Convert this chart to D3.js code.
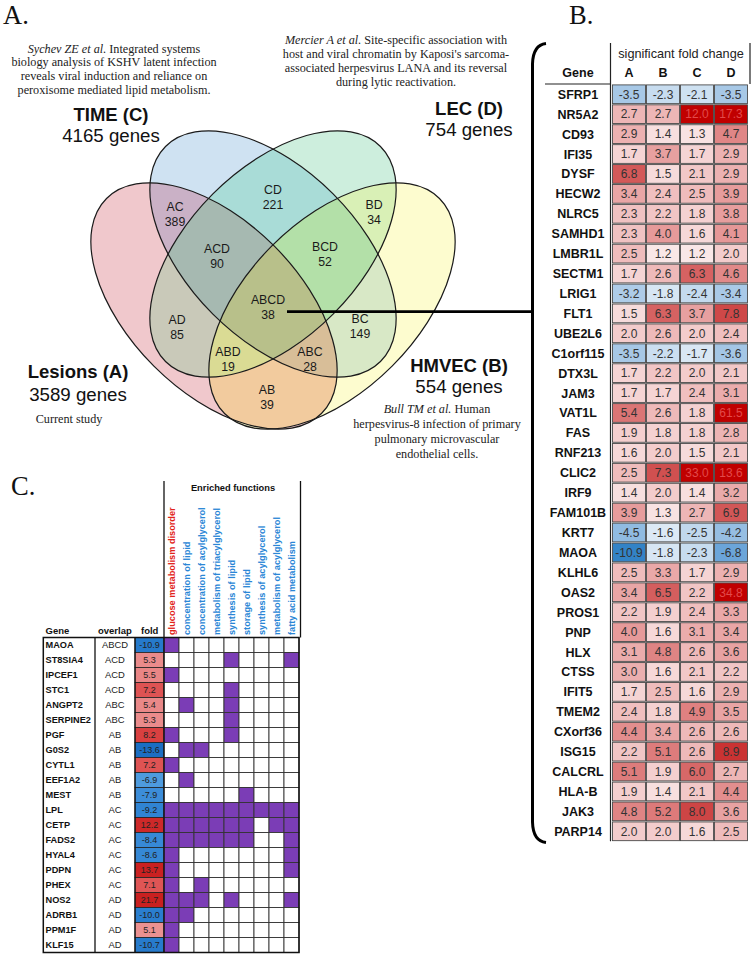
<!DOCTYPE html>
<html><head><meta charset="utf-8">
<script src="https://cdn.jsdelivr.net/npm/d3@7"></script>
<style>body{margin:0;background:#fff}svg{display:block}</style>
</head><body>
<svg id="fig" width="753" height="959"></svg>
<script>
// ---------------- DATA ----------------
const vennSetKeys   = ["A", "B", "C", "D"];
const vennSetTitles = ["Lesions (A)", "HMVEC (B)", "TIME (C)", "LEC (D)"];
const vennSetGenes  = [3589, 554, 4165, 754];
const vennRegionKeys   = ["AC", "CD", "BD", "ACD", "BCD", "AD", "ABCD", "BC", "ABD", "ABC", "AB"];
const vennRegionCounts = [389, 221, 34, 90, 52, 85, 38, 149, 19, 28, 39];

const geneB = ["SFRP1","NR5A2","CD93","IFI35","DYSF","HECW2","NLRC5","SAMHD1","LMBR1L","SECTM1",
  "LRIG1","FLT1","UBE2L6","C1orf115","DTX3L","JAM3","VAT1L","FAS","RNF213","CLIC2","IRF9","FAM101B",
  "KRT7","MAOA","KLHL6","OAS2","PROS1","PNP","HLX","CTSS","IFIT5","TMEM2","CXorf36","ISG15","CALCRL",
  "HLA-B","JAK3","PARP14"];
const foldA = [-3.5,2.7,2.9,1.7,6.8,3.4,2.3,2.3,2.5,1.7,-3.2,1.5,2.0,-3.5,1.7,1.7,5.4,1.9,1.6,2.5,1.4,3.9,
  -4.5,-10.9,2.5,3.4,2.2,4.0,3.1,3.0,1.7,2.4,4.4,2.2,5.1,1.9,4.8,2.0];
const foldB = [-2.3,2.7,1.4,3.7,1.5,2.4,2.2,4.0,1.2,2.6,-1.8,6.3,2.6,-2.2,2.2,1.7,2.6,1.8,2.0,7.3,2.0,1.3,
  -1.6,-1.8,3.3,6.5,1.9,1.6,4.8,1.6,2.5,1.8,3.4,5.1,1.9,1.4,5.2,2.0];
const foldC = [-2.1,12.0,1.3,1.7,2.1,2.5,1.8,1.6,1.2,6.3,-2.4,3.7,2.0,-1.7,2.0,2.4,1.8,1.8,1.5,33.0,1.4,2.7,
  -2.5,-2.3,1.7,2.2,2.4,3.1,2.6,2.1,1.6,4.9,2.6,2.6,6.0,2.1,8.0,1.6];
const foldD = [-3.5,17.3,4.7,2.9,2.9,3.9,3.8,4.1,2.0,4.6,-3.4,7.8,2.4,-3.6,2.1,3.1,61.5,2.8,2.1,13.6,3.2,6.9,
  -4.2,-6.8,2.9,34.8,3.3,3.4,3.6,2.2,2.9,3.5,2.6,8.9,2.7,4.4,3.6,2.5];
const studyColumns = ["A", "B", "C", "D"];

const geneC = ["MAOA","ST8SIA4","IPCEF1","STC1","ANGPT2","SERPINE2","PGF","G0S2","CYTL1","EEF1A2","MEST",
  "LPL","CETP","FADS2","HYAL4","PDPN","PHEX","NOS2","ADRB1","PPM1F","KLF15"];
const overlapC = ["ABCD","ACD","ACD","ACD","ABC","ABC","AB","AB","AB","AB","AB",
  "AC","AC","AC","AC","AC","AC","AD","AD","AD","AD"];
const foldLesion = [-10.9,5.3,5.5,7.2,5.4,5.3,8.2,-13.6,7.2,-6.9,-7.9,
  -9.2,12.2,-8.4,-8.6,13.7,7.1,21.7,-10.0,5.1,-10.7];
const functionsC = ["glucose metabolism disorder","concentration of lipid","concentration of acylglycerol",
  "metabolism of triacylglycerol","synthesis of lipid","storage of lipid","synthesis of acylglycerol",
  "metabolism of acylglycerol","fatty acid metabolism"];
// indices of enriched functions per gene
const enrichedC = [[0],[4,8],[0],[4],[1,4],[4],[0,4],[1,2],[0],[1],[5],
  [0,1,2,3,4,5,6,7,8],[0,1,2,3,4,5,7,8],[0,1,2,3,4,5,8],[0,8],[0,8],[0,2],[0,1,2,4,8],[0,1],[0],[0]];

// ---------------- STYLE / LAYOUT ----------------
const SANS = "'Liberation Sans', Arial, Helvetica, sans-serif";
const SERIF = "'Liberation Serif', 'Times New Roman', serif";
const svg = d3.select("#fig");

// ---------- Panel A: Venn ----------
const axisX = 273;
const ell = [ // A, B, C, D
  {cx: axisX - 59, cy: 306, a: 152, b: 85, rot: 45},
  {cx: axisX + 59, cy: 306, a: 152, b: 85, rot: -45},
  {cx: axisX, cy: 254, a: 152, b: 85, rot: 45},
  {cx: axisX, cy: 254, a: 152, b: 85, rot: -45}
];
const regionFill = {
  "A":"#f0c8cc","B":"#fdfccf","C":"#cfe2f2","D":"#cdeedd",
  "AB":"#f2cb9e","AC":"#cab1c6","AD":"#c9c9b9","BC":"#d8e8c6","BD":"#d9f0b6","CD":"#a9dcd7",
  "ABC":"#d8be98","ABD":"#dadb94","ACD":"#a6b9b1","BCD":"#b3e0a8","ABCD":"#b8c08a"
};
const labelPos = {
  "AC":[175,214],"CD":[273,197.5],"BD":[374,212],"ACD":[217,256],"BCD":[325,254],"AD":[177,327],
  "ABCD":[268,307],"BC":[360,326],"ABD":[228,359],"ABC":[310,359],"AB":[267,397]
};

const defs = svg.append("defs");
function addEllipse(sel, e) {
  return sel.append("ellipse").attr("cx", e.cx).attr("cy", e.cy).attr("rx", e.a).attr("ry", e.b)
    .attr("transform", `rotate(${e.rot},${e.cx},${e.cy})`);
}
ell.forEach((e, i) => addEllipse(defs.append("clipPath").attr("id", "vclip" + i), e));

const venn = svg.append("g");
for (let m = 1; m < 16; m++) {
  const key = vennSetKeys.filter((k, i) => m & (1 << i)).join("");
  const mask = defs.append("mask").attr("id", "vmask" + m).attr("maskUnits", "userSpaceOnUse")
    .attr("x", 0).attr("y", 0).attr("width", 753).attr("height", 959);
  mask.append("rect").attr("width", 753).attr("height", 959).attr("fill", "#fff");
  ell.forEach((e, i) => { if (!(m & (1 << i))) addEllipse(mask, e).attr("fill", "#000"); });
  let g = venn.append("g").attr("mask", `url(#vmask${m})`);
  ell.forEach((e, i) => { if (m & (1 << i)) g = g.append("g").attr("clip-path", `url(#vclip${i})`); });
  g.append("rect").attr("x", 50).attr("y", 100).attr("width", 450).attr("height", 360)
    .attr("fill", regionFill[key]);
}
ell.forEach(e => addEllipse(venn, e).attr("fill", "none").attr("stroke", "#1a1a1a").attr("stroke-width", 1.2));

vennRegionKeys.forEach((k, i) => {
  const [x, y] = labelPos[k];
  const t = venn.append("text").attr("text-anchor", "middle").attr("font-family", SANS)
    .attr("font-size", 12.3).attr("fill", "#1a1a1a");
  t.append("tspan").attr("x", x).attr("y", y - 3.1).text(k);
  t.append("tspan").attr("x", x).attr("y", y + 11.9).text(vennRegionCounts[i]);
});

// set titles
const titlePos = { // [x, titleBaseline, genesBaseline]
  "A":[78,378.3,400.7], "B":[459,371.7,393.3], "C":[111,120.7,141.5], "D":[469,114.5,135.7]
};
vennSetKeys.forEach((k, i) => {
  const [x, y1, y2] = titlePos[k];
  svg.append("text").attr("x", x).attr("y", y1).attr("text-anchor", "middle").attr("font-family", SANS)
    .attr("font-weight", "bold").attr("font-size", 18.5).attr("fill", "#111").text(vennSetTitles[i]);
  svg.append("text").attr("x", x).attr("y", y2).attr("text-anchor", "middle").attr("font-family", SANS)
    .attr("font-size", 18.7).attr("fill", "#111").text(vennSetGenes[i] + " genes");
});

// citations
function cite(x, y0, lines, dy) {
  const t = svg.append("text").attr("text-anchor", "middle").attr("font-family", SERIF)
    .attr("font-size", 12.2).attr("fill", "#222");
  lines.forEach((ln, j) => {
    const ts = t.append("tspan").attr("x", x).attr("y", y0 + j * dy);
    ln.forEach(([txt, it]) => ts.append("tspan").attr("font-style", it ? "italic" : null).text(txt));
  });
}
cite(114, 52.5, [[["Sychev ZE et al.", 1], [" Integrated systems", 0]],
  [["biology analysis of KSHV latent infection", 0]],
  [["reveals viral induction and reliance on", 0]],
  [["peroxisome mediated lipid metabolism.", 0]]], 13.9);
cite(396, 43.5, [[["Mercier A et al.", 1], [" Site-specific association with", 0]],
  [["host and viral chromatin by Kaposi's sarcoma-", 0]],
  [["associated herpesvirus LANA and its reversal", 0]],
  [["during lytic reactivation.", 0]]], 14);
cite(437, 413, [[["Bull TM et al.", 1], [" Human", 0]],
  [["herpesvirus-8 infection of primary", 0]],
  [["pulmonary microvascular", 0]],
  [["endothelial cells.", 0]]], 15);
cite(69, 423, [[["Current study", 0]]], 14);

// panel letters
[["A.", 3, 23.5], ["B.", 569, 23.5], ["C.", 11, 495]].forEach(([t, x, y]) =>
  svg.append("text").attr("x", x).attr("y", y).attr("font-family", SERIF).attr("font-size", 26.5)
    .attr("fill", "#111").text(t));

// connector + bracket
svg.append("line").attr("x1", 287).attr("x2", 532).attr("y1", 311.7).attr("y2", 311.7)
  .attr("stroke", "#000").attr("stroke-width", 2.8);
svg.append("path").attr("d", "M546,43.5 Q533,45 532.5,64 L532.5,822 Q533,841 546,842.5")
  .attr("fill", "none").attr("stroke", "#000").attr("stroke-width", 3);

// ---------- Panel B: fold-change table ----------
const yB = d3.scaleBand().domain(geneB).range([84.3, 84.3 + 19.92 * geneB.length]);
const xB = d3.scaleBand().domain(studyColumns).range([612, 748]);
const redB = d3.scaleLog().domain([1, 2, 4, 8, 12])
  .range(["#fbf0f0", "#f3cccc", "#e69a9a", "#cd4545", "#c00000"]).clamp(true);
const blueB = d3.scaleLog().domain([1, 2, 3.5, 7, 11])
  .range(["#f0f5fb", "#d2e3f2", "#a7c8e6", "#68a3d8", "#3282c6"]).clamp(true);
const colB = v => v >= 0 ? redB(v) : blueB(-v);
const foldCols = [foldA, foldB, foldC, foldD];

const tb = svg.append("g");
tb.append("text").attr("x", 681).attr("y", 58).attr("text-anchor", "middle").attr("font-family", SANS)
  .attr("font-size", 12.7).attr("fill", "#222").text("significant fold change");
tb.append("text").attr("x", 578).attr("y", 77).attr("text-anchor", "middle").attr("font-family", SANS)
  .attr("font-weight", "bold").attr("font-size", 12.5).attr("fill", "#111").text("Gene");
studyColumns.forEach(c => tb.append("text").attr("x", xB(c) + xB.bandwidth() / 2).attr("y", 77)
  .attr("text-anchor", "middle").attr("font-family", SANS).attr("font-weight", "bold")
  .attr("font-size", 12.5).attr("fill", "#111").text(c));

geneB.forEach((g, i) => {
  const y = yB(g), h = yB.bandwidth();
  tb.append("text").attr("x", 578).attr("y", y + h / 2 + 4.5).attr("text-anchor", "middle")
    .attr("font-family", SANS).attr("font-weight", "bold").attr("font-size", 12.5).attr("fill", "#111").text(g);
  studyColumns.forEach((c, j) => {
    const v = foldCols[j][i];
    tb.append("rect").attr("x", xB(c) + 0.5).attr("y", y + 0.6).attr("width", xB.bandwidth() - 1)
      .attr("height", h - 1.2).attr("fill", colB(v)).attr("stroke", "#4a4a4a").attr("stroke-width", 0.9);
    tb.append("text").attr("x", xB(c) + xB.bandwidth() / 2).attr("y", y + h / 2 + 4.3)
      .attr("text-anchor", "middle").attr("font-family", SANS).attr("font-size", 12)
      .attr("fill", v >= 11 ? "#e24a4a" : "#333").text(v.toFixed(1));
  });
});
tb.append("line").attr("x1", 610.5).attr("x2", 610.5).attr("y1", 43).attr("y2", yB.range()[1])
  .attr("stroke", "#222").attr("stroke-width", 1.2);
tb.append("line").attr("x1", 750).attr("x2", 750).attr("y1", 43).attr("y2", 84)
  .attr("stroke", "#222").attr("stroke-width", 1.2);
tb.append("line").attr("x1", 545).attr("x2", 610.5).attr("y1", 84).attr("y2", 84)
  .attr("stroke", "#222").attr("stroke-width", 1.2);

// ---------- Panel C: enrichment table ----------
const yC = d3.scaleBand().domain(geneC).range([637.5, 637.5 + 15 * geneC.length]);
const xC = d3.scaleBand().domain(functionsC).range([164, 299]);
const redC = d3.scaleLinear().domain([5, 7, 8.5, 14]).range(["#ec9494", "#df5757", "#d83a3a", "#c92020"]).clamp(true);
const blueC = d3.scaleLinear().domain([6.5, 8, 10, 14]).range(["#55a0e0", "#3a8cd8", "#2a7ecf", "#1a6cc0"]).clamp(true);
const colC = v => v >= 0 ? redC(v) : blueC(-v);
const tc = svg.append("g");

tc.append("text").attr("x", 233).attr("y", 491).attr("text-anchor", "middle").attr("font-family", SANS)
  .attr("font-weight", "bold").attr("font-size", 9.3).attr("fill", "#111").text("Enriched functions");
functionsC.forEach((f, j) => {
  const x = xC(f) + xC.bandwidth() / 2 + 3.3;
  tc.append("text").attr("transform", `translate(${x},635) rotate(-90)`).attr("font-family", SANS)
    .attr("font-weight", "bold").attr("font-size", 9.2).attr("fill", j === 0 ? "#e2231a" : "#2a86d6").text(f);
});
[["Gene", 45.5], ["overlap", 98], ["fold", 141]].forEach(([t, x]) =>
  tc.append("text").attr("x", x).attr("y", 634).attr("font-family", SANS).attr("font-weight", "bold")
    .attr("font-size", 9.5).attr("fill", "#111").text(t));

geneC.forEach((g, i) => {
  const y = yC(g), h = yC.bandwidth(), ty = y + h / 2 + 3.3;
  tc.append("text").attr("x", 45.5).attr("y", ty).attr("font-family", SANS).attr("font-weight", "bold")
    .attr("font-size", 9.2).attr("fill", "#111").text(g);
  tc.append("text").attr("x", 115).attr("y", ty).attr("text-anchor", "middle").attr("font-family", SANS)
    .attr("font-size", 9.4).attr("fill", "#222").text(overlapC[i]);
  tc.append("rect").attr("x", 135).attr("y", y).attr("width", 29).attr("height", h)
    .attr("fill", colC(foldLesion[i])).attr("stroke", "#222").attr("stroke-width", 0.8);
  tc.append("text").attr("x", 149.5).attr("y", ty).attr("text-anchor", "middle").attr("font-family", SANS)
    .attr("font-size", 9).attr("fill", "#222").text(foldLesion[i].toFixed(1));
  functionsC.forEach((f, j) => {
    tc.append("rect").attr("x", xC(f)).attr("y", y).attr("width", xC.bandwidth()).attr("height", h)
      .attr("fill", enrichedC[i].includes(j) ? "#7b3db6" : "#fff").attr("stroke", "#333").attr("stroke-width", 0.9);
  });
});
const yTop = yC.range()[0], yBot = yC.range()[1];
tc.append("rect").attr("x", 43.3).attr("y", yTop).attr("width", 299 - 43.3).attr("height", yBot - yTop)
  .attr("fill", "none").attr("stroke", "#111").attr("stroke-width", 1.5);
[95, 135, 164].forEach(x => tc.append("line").attr("x1", x).attr("x2", x).attr("y1", yTop).attr("y2", yBot)
  .attr("stroke", "#111").attr("stroke-width", 1.3));
tc.append("line").attr("x1", 164).attr("x2", 164).attr("y1", 481).attr("y2", yTop).attr("stroke", "#111").attr("stroke-width", 1.3);
tc.append("line").attr("x1", 300.5).attr("x2", 300.5).attr("y1", 481).attr("y2", yTop).attr("stroke", "#111").attr("stroke-width", 1.3);
</script>
</body></html>
